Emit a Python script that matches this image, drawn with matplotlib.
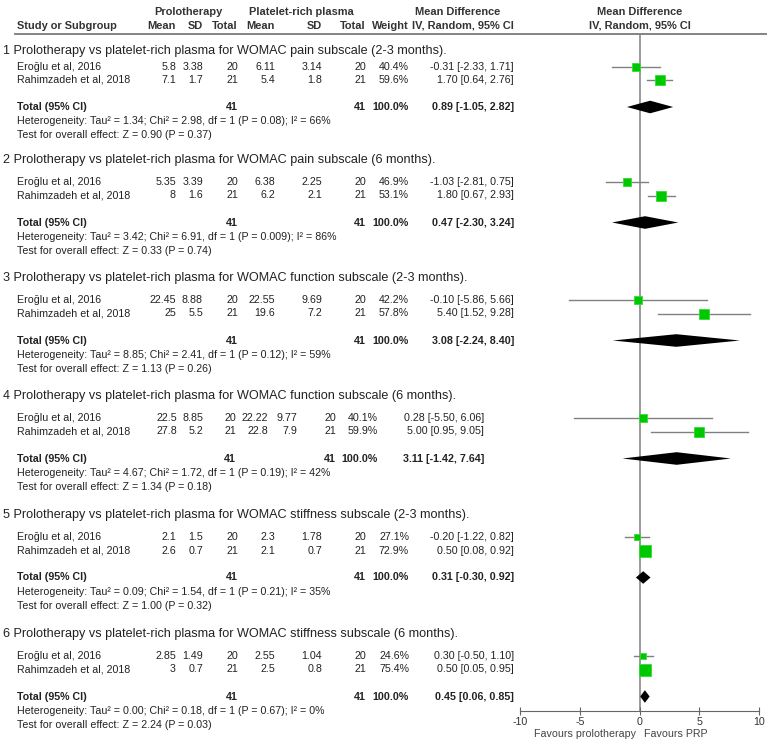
import numpy as np
import matplotlib.pyplot as plt

plt.rcParams['font.family'] = ['Liberation Sans', 'DejaVu Sans']

# ---------------------------
# data
# ---------------------------
titles = [
    "1 Prolotherapy vs platelet-rich plasma for WOMAC pain subscale (2-3 months).",
    "2 Prolotherapy vs platelet-rich plasma for WOMAC pain subscale (6 months).",
    "3 Prolotherapy vs platelet-rich plasma for WOMAC function subscale (2-3 months).",
    "4 Prolotherapy vs platelet-rich plasma for WOMAC function subscale (6 months).",
    "5 Prolotherapy vs platelet-rich plasma for WOMAC stiffness subscale (2-3 months).",
    "6 Prolotherapy vs platelet-rich plasma for WOMAC stiffness subscale (6 months).",
]
studies = ["Eroğlu et al, 2016", "Rahimzadeh et al, 2018"]

pro_mean = [["5.8", "7.1"], ["5.35", "8"], ["22.45", "25"], ["22.5", "27.8"], ["2.1", "2.6"], ["2.85", "3"]]
pro_sd = [["3.38", "1.7"], ["3.39", "1.6"], ["8.88", "5.5"], ["8.85", "5.2"], ["1.5", "0.7"], ["1.49", "0.7"]]
pro_n = [[20, 21]] * 6
prp_mean = [["6.11", "5.4"], ["6.38", "6.2"], ["22.55", "19.6"], ["22.22", "22.8"], ["2.3", "2.1"], ["2.55", "2.5"]]
prp_sd = [["3.14", "1.8"], ["2.25", "2.1"], ["9.69", "7.2"], ["9.77", "7.9"], ["1.78", "0.7"], ["1.04", "0.8"]]
prp_n = [[20, 21]] * 6
weights = [[40.4, 59.6], [46.9, 53.1], [42.2, 57.8], [40.1, 59.9], [27.1, 72.9], [24.6, 75.4]]

md = [[-0.31, 1.70], [-1.03, 1.80], [-0.10, 5.40], [0.28, 5.00], [-0.20, 0.50], [0.30, 0.50]]
md_lo = [[-2.33, 0.64], [-2.81, 0.67], [-5.86, 1.52], [-5.50, 0.95], [-1.22, 0.08], [-0.50, 0.05]]
md_hi = [[1.71, 2.76], [0.75, 2.93], [5.66, 9.28], [6.06, 9.05], [0.82, 0.92], [1.10, 0.95]]

tot_md = [0.89, 0.47, 3.08, 3.11, 0.31, 0.45]
tot_lo = [-1.05, -2.30, -2.24, -1.42, -0.30, 0.06]
tot_hi = [2.82, 3.24, 8.40, 7.64, 0.92, 0.85]

tau2 = ["1.34", "3.42", "8.85", "4.67", "0.09", "0.00"]
chi2 = ["2.98", "6.91", "2.41", "1.72", "1.54", "0.18"]
chi_p = ["0.08", "0.009", "0.12", "0.19", "0.21", "0.67"]
i2 = [66, 86, 59, 42, 35, 0]
z_val = ["0.90", "0.33", "1.13", "1.34", "1.00", "2.24"]
z_p = ["0.37", "0.74", "0.26", "0.18", "0.32", "0.03"]

xticks = [-10, -5, 0, 5, 10]

# ---------------------------
# layout (pixels)
# ---------------------------
W, H = 767, 747
title_y = [51, 160, 278, 396, 515, 634]
offs_first = [0, 16, 29, 56, 70, 84]
offs_rest = [0, 22, 35.5, 62.5, 77, 91]
cols = dict(m1=176, s1=203, n1=238, m2=275, s2=322, n2=366, w=409, ci=514)
cols_g4 = dict(m1=177, s1=203, n1=236, m2=268, s2=297, n2=336, w=378, ci=484)
axis_y, rule_y = 711, 34

txt = '#222222'
fs_title, fs, fs_head = 9.1, 7.7, 7.9

fig = plt.figure(figsize=(W / 100, H / 100), dpi=100)
ax = fig.add_axes([0, 0, 1, 1])
ax.set_xlim(0, W)
ax.set_ylim(H, 0)
ax.axis('off')

fx = fig.add_axes([520 / W, (H - axis_y) / H, 239 / W, (axis_y - rule_y) / H])
fx.set_xlim(-10, 10)
fx.set_ylim(axis_y, rule_y)
fx.patch.set_alpha(0)

# header
hb = dict(fontsize=fs_head, fontweight='bold', color='#333333', va='center')
ax.text(188, 12, "Prolotherapy", ha='center', **hb)
ax.text(301, 12, "Platelet-rich plasma", ha='center', **hb)
ax.text(458, 12, "Mean Difference", ha='center', **hb)
ax.text(17, 26, "Study or Subgroup", ha='left', **hb)
for key, lab in [('m1', 'Mean'), ('s1', 'SD'), ('n1', 'Total'), ('m2', 'Mean'),
                 ('s2', 'SD'), ('n2', 'Total'), ('w', 'Weight'), ('ci', 'IV, Random, 95% CI')]:
    ax.text(cols[key], 26, lab, ha='right', **hb)
fx.text(0, 12, "Mean Difference", ha='center', clip_on=False, **hb)
fx.text(0, 26, "IV, Random, 95% CI", ha='center', clip_on=False, **hb)
ax.plot([15, W], [rule_y, rule_y], color='#7a7a7a', lw=1.3)

for g in range(6):
    offs = offs_first if g == 0 else offs_rest
    c = cols_g4 if g == 3 else cols
    ty = title_y[g]
    ax.text(3, ty, titles[g], fontsize=fs_title, color=txt, va='center')
    for k in range(2):
        y = ty + offs[1 + k]
        ax.text(17, y, studies[k], fontsize=fs, color=txt, va='center')
        vals = [('m1', pro_mean[g][k]), ('s1', pro_sd[g][k]), ('n1', str(pro_n[g][k])),
                ('m2', prp_mean[g][k]), ('s2', prp_sd[g][k]), ('n2', str(prp_n[g][k])),
                ('w', f"{weights[g][k]:.1f}%"),
                ('ci', f"{md[g][k]:.2f} [{md_lo[g][k]:.2f}, {md_hi[g][k]:.2f}]")]
        for key, v in vals:
            ax.text(c[key], y, v, fontsize=fs, color=txt, va='center', ha='right')
        # forest: CI line + square
        fx.plot([md_lo[g][k], md_hi[g][k]], [y, y], color='#808080', lw=1.0, zorder=2)
        side = 12 * (weights[g][k] / 75.4) ** 0.75
        fx.plot(md[g][k], y, marker='s', ms=side * 0.72, color='#00c800',
                mec='#33dd33', mew=0.6, zorder=3)
    y = ty + offs[3]
    ax.text(17, y, "Total (95% CI)", fontsize=fs, color=txt, va='center', fontweight='bold')
    tot_n1 = sum(pro_n[g])
    tot_n2 = sum(prp_n[g])
    for key, v in [('n1', str(tot_n1)), ('n2', str(tot_n2)),
                   ('w', f"{sum(weights[g]):.1f}%"),
                   ('ci', f"{tot_md[g]:.2f} [{tot_lo[g]:.2f}, {tot_hi[g]:.2f}]")]:
        ax.text(c[key], y, v, fontsize=fs, color=txt, va='center', ha='right', fontweight='bold')
    dh = 6.3
    fx.fill([tot_lo[g], tot_md[g], tot_hi[g], tot_md[g]], [y, y - dh, y, y + dh],
            color='black', lw=0, zorder=3)
    ax.text(17, ty + offs[4],
            f"Heterogeneity: Tau² = {tau2[g]}; Chi² = {chi2[g]}, df = 1 (P = {chi_p[g]}); I² = {i2[g]}%",
            fontsize=fs, color=txt, va='center')
    ax.text(17, ty + offs[5], f"Test for overall effect: Z = {z_val[g]} (P = {z_p[g]})",
            fontsize=fs, color=txt, va='center')

# forest axis
fx.axvline(0, color='#808080', lw=1.1, zorder=1)
for s in ['top', 'left', 'right']:
    fx.spines[s].set_visible(False)
fx.spines['bottom'].set_color('#666666')
fx.set_yticks([])
fx.set_xticks(xticks)
fx.set_xticklabels([str(t) for t in xticks])
fx.tick_params(axis='x', direction='inout', length=6, color='#666666', labelsize=fs,
               labelcolor='#333333', pad=1)
ax.text(636, 734, "Favours prolotherapy", fontsize=fs, color='#444444', ha='right', va='center')
ax.text(644, 734, "Favours PRP", fontsize=fs, color='#444444', ha='left', va='center')

fig.savefig('out.png', dpi=100)
